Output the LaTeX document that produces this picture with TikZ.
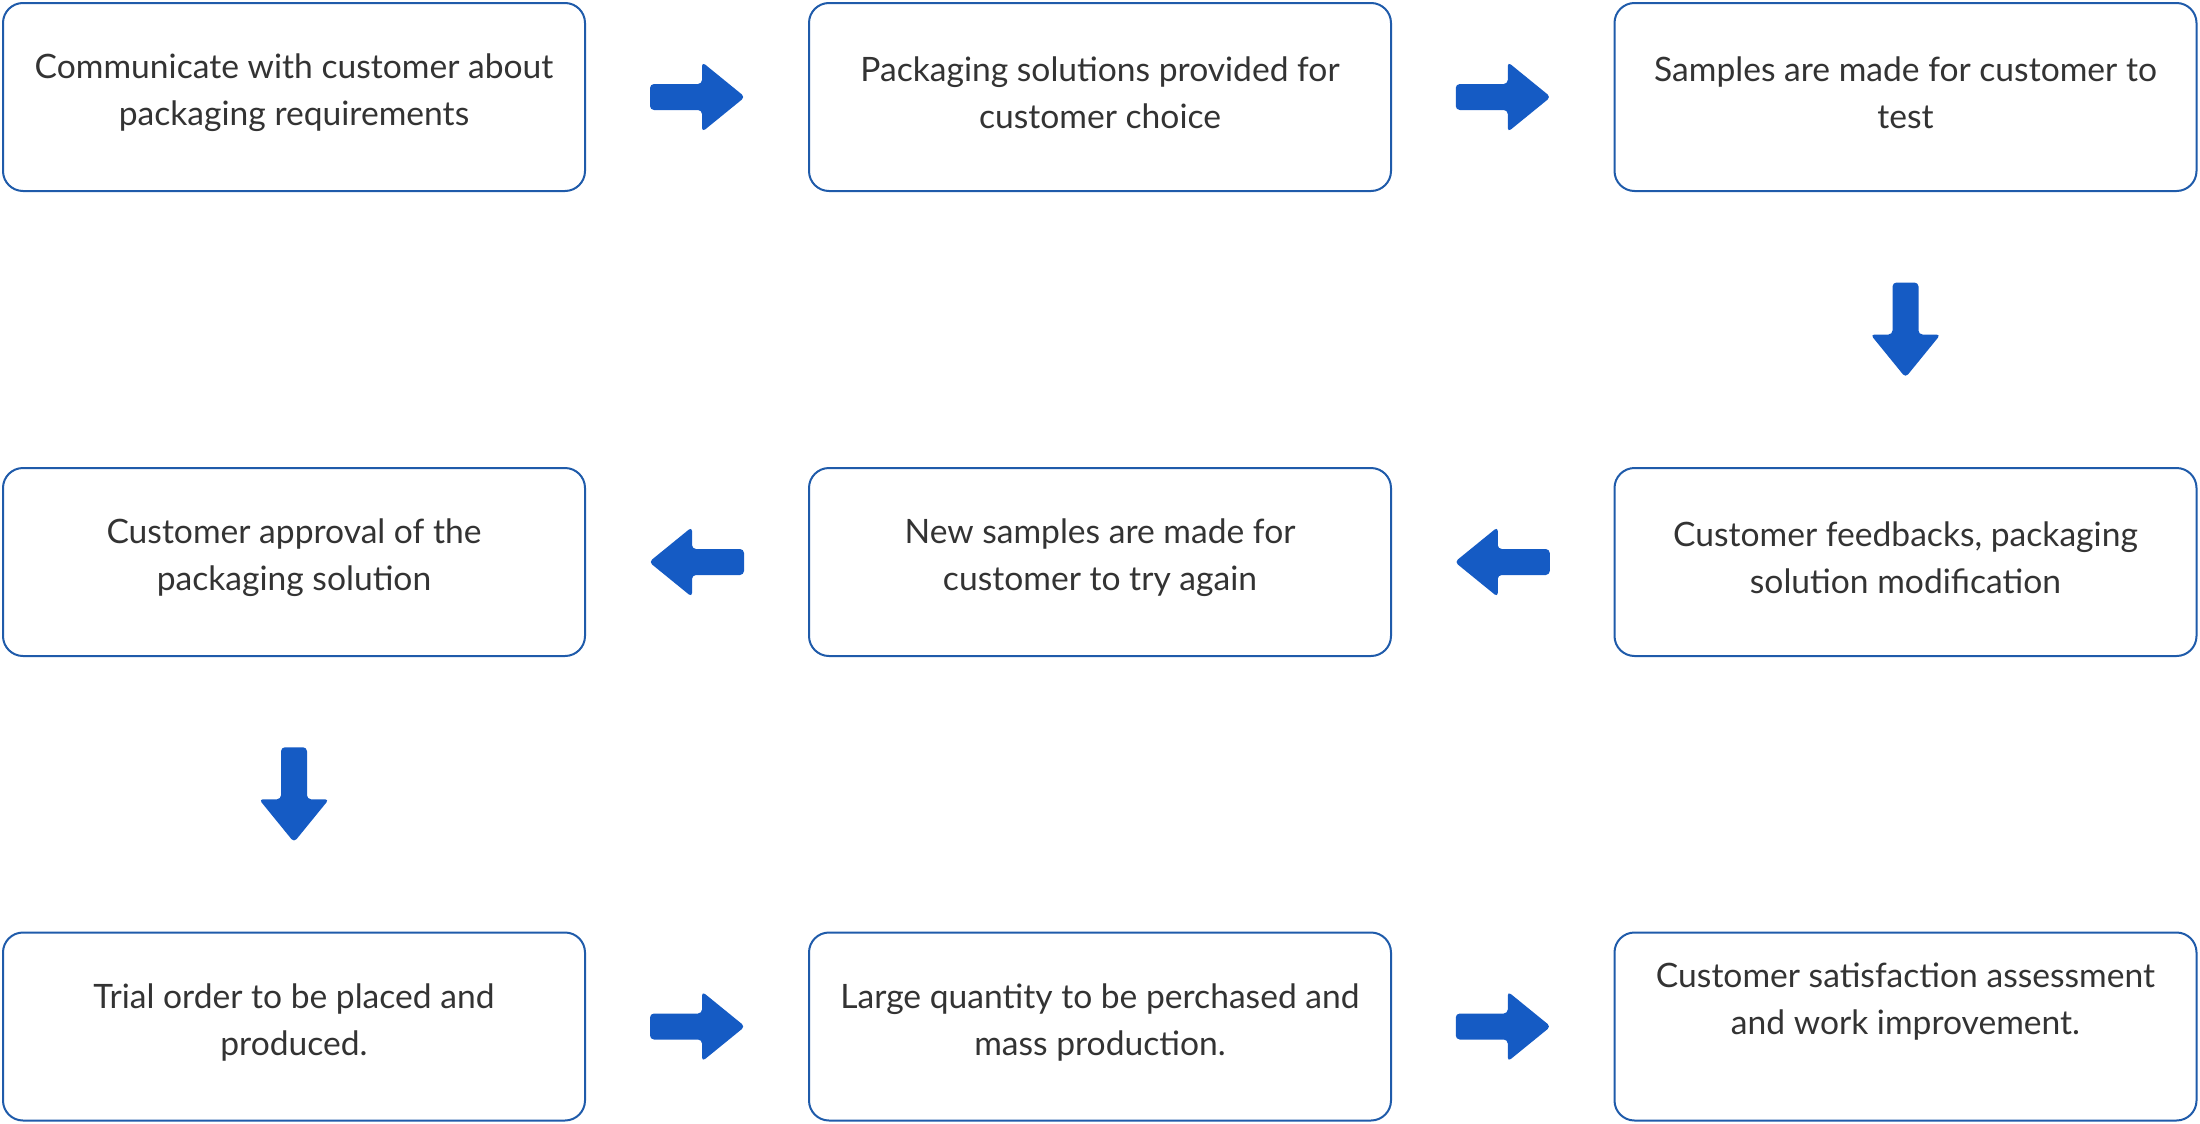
\documentclass[tikz,border=0pt]{standalone}
\usepackage{fontspec}
\setmainfont{Lato}
\usetikzlibrary{calc}
\definecolor{boxblue}{HTML}{1F5BAA}
\definecolor{arrowblue}{HTML}{155BC4}
\definecolor{txtgray}{HTML}{333333}
\tikzset{
  box/.style={draw=boxblue, line width=1pt, rounded corners=10pt, minimum width=291pt, minimum height=94pt, inner sep=0pt},
  txt/.style={text=txtgray, align=center, font=\fontsize{16.8}{23.5}\selectfont},
  blockarrow/.pic={
    \fill[arrowblue, rounded corners=2pt] (-47,-13) -- (5,-13) -- (5,-35) -- (48,0) -- (5,35) -- (5,13) -- (-47,13) -- cycle;
  }
}
\begin{document}
\begin{tikzpicture}[x=0.5pt, y=-0.5pt]
\useasboundingbox (0,0) rectangle (2200,1124);
% row 1
\node[box] (b1) at (294,97) {};
\node[box] (b2) at (1100,97) {};
\node[box] (b3) at (1905.5,97) {};
% row 2
\node[box] (b4) at (294,562) {};
\node[box] (b5) at (1100,562) {};
\node[box] (b6) at (1905.5,562) {};
% row 3
\node[box] (b7) at (294,1026.5) {};
\node[box] (b8) at (1100,1026.5) {};
\node[box] (b9) at (1905.5,1026.5) {};
% texts
\node[txt] (t1) at ([yshift=2pt]b1.center) {Communicate with customer about\\packaging requirements};
\node[txt] (t2) at ([yshift=2pt]b2.center) {Packaging solutions provided for\\customer choice};
\node[txt] (t3) at ([yshift=2pt]b3.center) {Samples are made for customer to\\test};
\node[txt] (t4) at ([yshift=2pt]b4.center) {Customer approval of the\\packaging solution};
\node[txt] (t5) at ([yshift=2pt]b5.center) {New samples are made for\\customer to try again};
\node[txt] (t6) at ([yshift=2pt]b6.center) {Customer feedbacks, packaging\\solution modification};
\node[txt] (t7) at ([yshift=2pt]b7.center) {Trial order to be placed and\\produced.};
\node[txt] (t8) at ([yshift=2pt]b8.center) {Large quantity to be perchased and\\mass production.};
\node[txt] (t9) at ([yshift=12.5pt]b9.center) {Customer satisfaction assessment\\and work improvement.};
% arrows
\pic at ($(b1.east)!0.5!(b2.west)$) {blockarrow};
\pic at ($(b2.east)!0.5!(b3.west)$) {blockarrow};
\pic[rotate=-90] at ($(b3.south)!0.5!(b6.north)$) {blockarrow};
\pic[rotate=180] at ($(b6.west)!0.5!(b5.east)$) {blockarrow};
\pic[rotate=180] at ($(b5.west)!0.5!(b4.east)$) {blockarrow};
\pic[rotate=-90] at ($(b4.south)!0.5!(b7.north)$) {blockarrow};
\pic at ($(b7.east)!0.5!(b8.west)$) {blockarrow};
\pic at ($(b8.east)!0.5!(b9.west)$) {blockarrow};
\end{tikzpicture}
\end{document}
